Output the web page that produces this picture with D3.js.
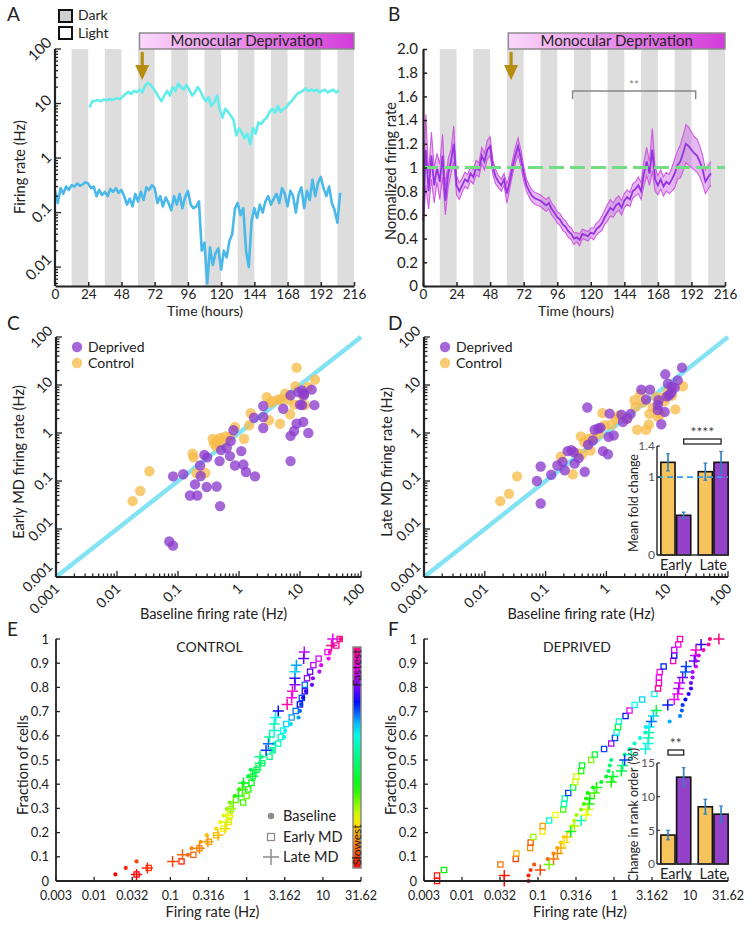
<!DOCTYPE html>
<html><head><meta charset="utf-8">
<script src="https://cdn.jsdelivr.net/npm/d3@7"></script>
<style>
body{margin:0;background:#fff}
svg{display:block}
text{font-family:Lato,'Open Sans',sans-serif;fill:#222}
</style>
</head><body><script>
// ================= DATA =================
// Panel A / B shared
const darkStarts=[12,36,60,84,108,132,156,180,204];
const darkLen=12;
const mdStart=61, mdEnd=216, arrowHour=63;
const hourTicks=[0,24,48,72,96,120,144,168,192,216];
const logTicksA=[0.01,0.1,1,10,100];
const logTickLabelsA=["0.01","0.1","1","10","100"];
const domainA=[0.0045,100];
// Panel A: upper cell (starts at hour 25, every 2 h)
const upperStartA=25, upperStepA=2;
const upperA=[8.5,11,11.2,11.5,11,11.8,11.5,12,11.8,12,12.5,12,13.5,15,16.5,15,17,16,18,16,21,24,22,19,16,13,11,14,17,14,20,17,23,20,18,22,18,14,16,20,17,13,11,13,9,10.5,14,8,5.5,8,7,6,5,2.6,3.5,2.9,2.3,2.8,1.8,3.6,2.8,4.5,4.2,5,5.5,7,8,6.8,9,7,8,8.5,10,11,13,15,16,17,19,17,18,17,18,16,17,18,16,17,18,16,17.5];
// Panel A: lower cell (hour 0.., every 2 h)
const lowerStartA=0, lowerStepA=2;
const lowerA=[0.25,0.15,0.28,0.22,0.3,0.26,0.32,0.3,0.34,0.31,0.33,0.36,0.34,0.28,0.3,0.2,0.26,0.21,0.24,0.2,0.27,0.24,0.28,0.23,0.26,0.2,0.14,0.18,0.13,0.22,0.16,0.24,0.17,0.29,0.26,0.32,0.28,0.15,0.2,0.13,0.19,0.15,0.11,0.2,0.14,0.22,0.12,0.19,0.25,0.14,0.12,0.13,0.16,0.02,0.028,0.005,0.023,0.011,0.018,0.022,0.009,0.02,0.015,0.03,0.04,0.12,0.15,0.09,0.12,0.02,0.01,0.07,0.12,0.08,0.14,0.1,0.16,0.2,0.14,0.18,0.22,0.15,0.28,0.22,0.13,0.25,0.2,0.1,0.22,0.29,0.12,0.25,0.17,0.4,0.2,0.35,0.45,0.28,0.2,0.3,0.15,0.11,0.065,0.23];
// Panel B
const normTicks=[0,0.2,0.4,0.6,0.8,1,1.2,1.4,1.6,1.8,2.0];
const normTickLabels=["0","0.2","0.4","0.6","0.8","1","1.2","1.4","1.6","1.8","2.0"];
const stepB=2;
const meanB=[0.55,1.15,0.8,1.1,0.85,1.0,0.88,1.1,0.72,0.95,1.05,1.2,0.85,0.8,0.85,0.9,0.88,0.95,0.92,1.0,0.98,1.1,1.05,1.15,1.18,1.0,0.92,0.88,0.85,0.9,0.78,0.88,1.0,1.1,1.18,1.08,0.95,0.85,0.8,0.76,0.74,0.73,0.72,0.7,0.68,0.7,0.65,0.62,0.58,0.56,0.52,0.5,0.46,0.44,0.4,0.41,0.39,0.44,0.43,0.42,0.45,0.44,0.48,0.5,0.53,0.58,0.62,0.66,0.64,0.68,0.7,0.66,0.72,0.75,0.73,0.8,0.82,0.85,0.8,0.95,1.05,0.95,1.15,0.9,0.85,0.9,0.84,0.88,0.86,0.9,0.95,1.02,1.05,1.12,1.2,1.18,1.15,1.12,1.1,1.05,0.98,0.88,0.92,0.95];
const semB=[0.10,0.30,0.15,0.20,0.15,0.12,0.15,0.18,0.12,0.12,0.10,0.15,
 0.08,0.07,0.06,0.06,0.06,0.06,0.06,0.06,0.06,0.07,0.07,0.08,0.08,
 0.06,0.06,0.05,0.05,0.05,0.08,0.06,0.06,0.07,0.07,0.07,0.06,
 0.05,0.05,0.05,0.05,0.05,0.05,0.05,0.05,0.05,0.05,0.05,0.05,0.05,0.05,
 0.05,0.05,0.05,0.05,0.04,0.05,0.04,0.04,0.04,0.04,0.05,0.05,0.05,0.06,0.06,0.07,0.07,0.06,0.06,0.06,0.06,0.06,0.06,0.06,0.06,0.06,0.07,0.07,
 0.10,0.12,0.10,0.18,0.10,0.08,0.08,0.08,0.08,0.08,0.10,0.12,0.12,0.14,0.15,0.16,0.16,0.15,0.14,0.14,0.13,0.12,0.10,0.10,0.10];
const sigHoursB=[107,195];
// Panels C / D
const logDomainCD=[0.001,100];
const logTicksCD=[0.001,0.01,0.1,1,10,100];
const logTickLabelsCD=["0.001","0.01","0.1","1","10","100"];
const depBaseC=[0.083,0.122,0.157,0.19,0.207,0.23,0.235,0.27,0.30,0.295,0.43,0.48,0.49,0.51,0.63,0.71,0.73,0.81,0.86,1.09,1.18,1.30,1.76,1.83,2.5,2.5,2.5,5.3,7.0,7.0,7.0,8.0,8.8,9.4,10,10.8,11.3,11.6,10.8,13.7,15.5,17.2,0.072,0.083,11.6];
const depEarlyC=[0.125,0.138,0.050,0.085,0.050,0.21,0.127,0.35,0.31,0.075,0.077,0.26,0.030,0.44,0.49,0.33,0.68,1.14,0.21,0.42,0.22,0.154,2.08,0.125,3.65,2.15,1.27,3.2,6.1,0.26,0.87,1.1,1.56,7.1,3.9,3.8,1.7,6.6,7.7,1.0,8.0,3.8,0.0055,0.0045,6.1];
const ctlBaseC=[0.018,0.024,0.034,0.174,0.18,0.20,0.28,0.37,0.39,0.43,0.49,0.42,0.56,0.71,0.86,1.21,1.47,1.55,2.85,3.1,3.3,4.4,4.7,5.0,5.7,6.9,8.0,8.8,8.4,11.1,12,13.3,17.6,6.5,0.45,0.6,3.5];
const ctlEarlyC=[0.038,0.062,0.16,0.37,0.31,0.147,0.147,0.75,0.60,0.67,0.79,0.53,0.65,0.83,1.33,0.76,1.45,2.6,5.6,1.84,4.3,5.0,1.56,5.0,6.6,2.45,3.9,23,9.4,6.1,3.8,9.1,12.9,5.0,0.7,0.85,4.6];
const depBaseD=[0.083,0.083,0.072,0.124,0.156,0.19,0.206,0.23,0.265,0.29,0.30,0.44,0.485,0.50,0.64,0.74,0.80,0.88,1.06,1.09,1.32,1.13,1.77,1.87,2.5,3.76,5.2,7.2,7.0,8.0,9.1,9.3,10.3,10.7,11.6,13.3,14.9,17.5,7.0,9.9,0.35,0.6,2.2,4.5,12];
const depLateD=[0.034,0.20,0.10,0.135,0.21,0.25,0.167,0.42,0.44,0.40,0.23,0.156,3.4,0.57,1.17,1.24,1.29,0.42,0.36,0.83,0.89,2.53,2.4,1.7,2.5,8.0,8.0,4.8,3.0,1.52,2.75,16.7,10.6,6.1,6.8,8.7,12.5,23,3.8,5.8,0.3,0.7,2.0,5.0,9.0];
const ctlBaseD=[0.018,0.025,0.034,0.177,0.28,0.38,0.40,0.43,0.50,0.55,0.86,0.94,1.45,1.6,2.9,3.2,3.6,4.5,5.0,5.1,5.8,6.6,7.7,9.1,10.3,13.6,18.2,6.9,0.6,0.75,1.2,2.2,4.0,8.5,0.33,3.0,12];
const ctlLateD=[0.038,0.054,0.125,0.32,0.138,0.85,0.36,0.65,0.76,0.43,2.6,1.46,1.97,2.3,4.8,1.17,6.6,1.17,1.5,2.5,3.4,5.6,2.45,4.6,7.5,3.1,9.4,2.2,0.8,0.95,1.5,2.0,4.3,5.5,0.38,3.5,6.0];
// Inset D
const insetGroups=["Early","Late"];
const foldCtl=[1.19,1.07], foldCtlErr=[0.11,0.11];
const foldDep=[0.51,1.19], foldDepErr=[0.04,0.14];
const foldTicks=[0,1,1.4], foldTickLabels=["0","1","1.4"];
// Panels E / F
const cdfTicks=[0.003162,0.01,0.03162,0.1,0.3162,1,3.162,10,31.62];
const cdfTickLabels=["0.003","0.01","0.032","0.1","0.316","1","3.162","10","31.62"];
const fracTicks=[0,0.1,0.2,0.3,0.4,0.5,0.6,0.7,0.8,0.9,1];
const fracTickLabels=["0","0.1","0.2","0.3","0.4","0.5","0.6","0.7","0.8","0.9","1"];
const baseE=[0.019,0.026,0.036,0.17,0.19,0.25,0.3,0.4,0.45,0.5,0.55,0.6,0.7,0.8,0.9,1.05,1.13,1.5,1.57,2.2,2.3,3.1,3.2,3.8,4.8,5.0,5.2,5.5,6.0,7.2,7.4,9.0,9.5,11.9,12.3,13.5,17];
const earlyE=[0.036,0.052,0.14,0.2,0.24,0.32,0.4,0.5,0.58,0.6,0.62,0.9,1.0,1.05,1.16,1.2,1.35,1.6,2.0,2.2,2.6,2.8,3.0,3.3,3.9,4.4,5.0,5.3,5.8,5.8,6.2,6.8,7.5,8.8,11.5,15,16.6];
const lateE=[0.036,0.05,0.107,0.144,0.24,0.31,0.42,0.52,0.55,0.57,0.62,0.67,0.78,0.88,0.91,1.2,1.33,1.5,1.5,1.8,1.93,2.0,2.3,2.3,2.4,2.6,3.4,3.9,4.0,4.3,4.3,4.3,4.5,5.6,5.7,13,13.5];
const earlyERank=[0,2,1,3,4,5,6,8,7,9,10,12,11,13,14,15,16,17,18,19,20,21,22,23,24,25,27,26,28,25,30,29,31,32,33,35,36];
const lateERank=[0,1,2,3,4,5,6,7,9,8,10,11,13,12,14,15,16,17,18,26,25,19,21,20,22,27,35,33,34,30,28,23,24,29,31,36,32];
const baseF=[0.075,0.075,0.08,0.089,0.134,0.16,0.18,0.2,0.22,0.26,0.28,0.3,0.32,0.37,0.4,0.43,0.45,0.53,0.68,0.79,0.85,0.88,0.92,1.38,1.6,1.86,2.2,2.6,2.65,5.4,7.4,7.8,8.0,8.7,9.6,10.3,10.3,10.8,10.8,12,12,13,15,17.6,18.3];
const earlyF=[0.0047,0.0047,0.0058,0.032,0.051,0.052,0.079,0.08,0.087,0.115,0.115,0.14,0.17,0.215,0.22,0.225,0.25,0.29,0.31,0.32,0.37,0.38,0.5,0.56,0.74,0.92,1.03,1.08,1.13,1.16,1.42,1.6,1.87,2.35,3.4,3.8,3.9,3.9,4.0,4.5,6.0,6.2,6.2,7.0,7.4];
const lateF=[0.036,0.036,0.107,0.14,0.16,0.18,0.2,0.22,0.24,0.27,0.3,0.37,0.43,0.45,0.47,0.48,0.55,0.59,0.92,0.97,1.25,1.3,1.38,1.69,2.6,2.8,2.85,2.88,2.9,3.1,3.3,3.6,5.1,6.2,6.9,7.1,7.3,8.0,8.7,8.9,11.4,11.8,12,14,24];
const earlyFColor=[0,0.02,0.37,0.1,0.05,0.16,0.12,0.07,0.28,0.2,0.14,0.58,0.22,0.33,0.56,0.54,0.72,0.45,0.25,0.24,0.35,0.4,0.3,0.42,0.72,0.85,0.72,0.6,0.4,0.58,0.74,0.9,0.62,0.64,0.6,0.99,0.97,0.9,0.93,0.74,0.95,0.75,0.88,0.92,0.96];
const lateFColor=[0,0.02,0.06,0.3,0.1,0.12,0.15,0.2,0.18,0.4,0.27,0.55,0.22,0.25,0.35,0.38,0.33,0.36,0.36,0.4,0.42,0.5,0.72,0.56,0.58,0.6,0.55,0.52,0.62,0.7,0.64,0.45,0.74,0.9,0.92,0.86,0.88,0.82,0.7,0.72,0.8,0.85,0.95,0.78,1.0];
// Inset F
const rankCtl=[4.3,8.5], rankCtlErr=[0.7,1.1];
const rankDep=[12.9,7.4], rankDepErr=[1.4,1.2];
const rankTicks=[0,5,10,15], rankTickLabels=["0","5","10","15"];

// ================= DRAWING =================
const W=751,H=930;
const svg=d3.select("body").append("svg").attr("width",W).attr("height",H);
svg.append("rect").attr("width",W).attr("height",H).attr("fill","#fff");
const defs=svg.append("defs");
const mdGrad=defs.append("linearGradient").attr("id","mdGrad");
mdGrad.append("stop").attr("offset","0%").attr("stop-color","#fbd8fb");
mdGrad.append("stop").attr("offset","100%").attr("stop-color","#d43bd9");

const AX="#222", PURPLE="rgb(140,60,205)", ORANGE="rgb(247,188,75)";
const cmapHue=d3.scaleLinear().domain([0,0.22,0.37,0.62,0.74,0.85,1]).range([0,60,120,180,235,280,330]);
const rankColor=t=>d3.hsl(cmapHue(t),0.95,0.5).formatHex();

function panelLabel(x,y,t){svg.append("text").attr("x",x).attr("y",y).attr("font-size",19).text(t);}
function vTitle(x,y,t,size){svg.append("text").attr("transform",`translate(${x},${y}) rotate(-90)`).attr("text-anchor","middle").attr("font-size",size).text(t);}
function hTitle(x,y,t,size){svg.append("text").attr("x",x).attr("y",y).attr("text-anchor","middle").attr("font-size",size).text(t);}
function rotLeft(g,axisX,ty,txt,size){
  const t=g.append("text").attr("font-size",size).attr("text-anchor","middle").attr("dy","0.35em").text(txt);
  const L=t.node().getComputedTextLength();
  t.attr("transform",`translate(${axisX-6-0.354*L},${ty}) rotate(-45)`);
}
function rotBottom(g,tx,axisY,txt,size){
  const t=g.append("text").attr("font-size",size).attr("text-anchor","middle").attr("dy","0.35em").text(txt);
  const L=t.node().getComputedTextLength();
  t.attr("transform",`translate(${tx+1-0.354*L},${axisY+9+0.354*L}) rotate(-45)`);
}
function minorLogTicks(lo,hi){const out=[];let e=Math.floor(Math.log10(lo));for(;Math.pow(10,e)<=hi;e++){for(let k=1;k<10;k++){const v=k*Math.pow(10,e);if(v>=lo&&v<=hi)out.push(v);}}return out;}

// ---------- time panels (A, B) ----------
function timeFrame(x,y,yTop,yBot){
  const g=svg.append("g");
  g.selectAll("rect.dark").data(darkStarts).join("rect")
    .attr("x",d=>x(d)).attr("width",d=>x(d+darkLen)-x(d))
    .attr("y",yTop).attr("height",yBot-yTop).attr("fill","#dddddd");
  g.append("rect").attr("x",x(mdStart)).attr("y",yTop-16).attr("width",x(mdEnd)-x(mdStart)).attr("height",16)
    .attr("fill","url(#mdGrad)").attr("stroke","#8a8a8a").attr("stroke-width",1.5);
  g.append("text").attr("x",(x(mdStart)+x(mdEnd))/2).attr("y",yTop-3).attr("text-anchor","middle").attr("font-size",15).text("Monocular Deprivation");
  const ax=x(arrowHour);
  g.append("line").attr("x1",ax).attr("x2",ax).attr("y1",yTop+3).attr("y2",yTop+18).attr("stroke","#b68d0c").attr("stroke-width",3.2);
  g.append("path").attr("d",`M${ax-7},${yTop+16}L${ax+7},${yTop+16}L${ax},${yTop+31}Z`).attr("fill","#b68d0c");
  return g;
}
function timeXAxis(g,x,yBot){
  const ax=d3.axisBottom(x).tickValues(hourTicks).tickSize(-4).tickSizeOuter(0).tickPadding(3);
  const a=g.append("g").attr("transform",`translate(0,${yBot})`).call(ax);
  a.select(".domain").attr("stroke",AX).attr("stroke-width",2.2);
  a.selectAll(".tick line").attr("stroke",AX).attr("stroke-width",1.5);
  a.selectAll("text").attr("font-size",13.5).attr("fill","#222").attr("font-family","Lato,sans-serif");
}

// Panel A
{
  const x=d3.scaleLinear().domain([0,216]).range([55,354]);
  const y=d3.scaleLog().domain(domainA).range([286,49]);
  const g=timeFrame(x,y,49,286);
  const line=d3.line().x(d=>x(d[0])).y(d=>y(d[1]));
  const up=upperA.map((v,i)=>[upperStartA+i*upperStepA,v]);
  const lo=lowerA.map((v,i)=>[lowerStartA+i*lowerStepA,v]);
  g.append("path").attr("d",line(up)).attr("fill","none").attr("stroke","#63ecec").attr("stroke-width",2.6).attr("stroke-linejoin","round");
  g.append("path").attr("d",line(lo)).attr("fill","none").attr("stroke","#4bb8ea").attr("stroke-width",2.6).attr("stroke-linejoin","round");
  timeXAxis(g,x,286);
  g.append("line").attr("x1",55).attr("x2",55).attr("y1",49).attr("y2",286).attr("stroke",AX).attr("stroke-width",2.2);
  g.selectAll("line.mn").data(minorLogTicks(domainA[0],domainA[1])).join("line")
    .attr("x1",55).attr("x2",d=>logTicksA.includes(d)?61:58).attr("y1",d=>y(d)).attr("y2",d=>y(d)).attr("stroke",AX).attr("stroke-width",1.3);
  logTicksA.forEach((v,i)=>rotLeft(g,55,y(v),logTickLabelsA[i],15));
  vTitle(25,167,"Firing rate (Hz)",14.5);
  hTitle(205,316,"Time (hours)",14);
  g.append("rect").attr("x",59).attr("y",10).attr("width",13).attr("height",12).attr("fill","#cfcfcf").attr("stroke","#111").attr("stroke-width",2);
  g.append("rect").attr("x",59).attr("y",27).attr("width",13).attr("height",12).attr("fill","#fff").attr("stroke","#111").attr("stroke-width",2);
  g.append("text").attr("x",78).attr("y",20).attr("font-size",14).text("Dark");
  g.append("text").attr("x",78).attr("y",37.5).attr("font-size",14).text("Light");
  panelLabel(7,21,"A");
}
// Panel B
{
  const x=d3.scaleLinear().domain([0,216]).range([423,725]);
  const y=d3.scaleLinear().domain([0,2]).range([286,49]);
  const g=timeFrame(x,y,49,286);
  const pts=meanB.map((v,i)=>({h:i*stepB,m:v,s:semB[i]}));
  const area=d3.area().x(d=>x(d.h)).y0(d=>y(d.m-d.s)).y1(d=>y(d.m+d.s));
  g.append("path").attr("d",area(pts)).attr("fill","rgba(200,100,230,0.45)");
  const lineU=d3.line().x(d=>x(d.h)).y(d=>y(d.m+d.s));
  const lineL=d3.line().x(d=>x(d.h)).y(d=>y(d.m-d.s));
  g.append("path").attr("d",lineU(pts)).attr("fill","none").attr("stroke","#cf5ae0").attr("stroke-width",1.1);
  g.append("path").attr("d",lineL(pts)).attr("fill","none").attr("stroke","#cf5ae0").attr("stroke-width",1.1);
  g.append("path").attr("d",d3.line().x(d=>x(d.h)).y(d=>y(d.m))(pts)).attr("fill","none").attr("stroke","#9533e0").attr("stroke-width",1.8);
  g.append("line").attr("x1",x(0)).attr("x2",x(216)).attr("y1",y(1)).attr("y2",y(1)).attr("stroke","#73dd84").attr("stroke-width",3).attr("stroke-dasharray","15,6");
  const sy=91;
  g.append("path").attr("d",`M${x(sigHoursB[0])},${sy+8}V${sy}H${x(sigHoursB[1])}V${sy+8}`).attr("fill","none").attr("stroke","#888").attr("stroke-width",1.5);
  g.append("text").attr("x",(x(sigHoursB[0])+x(sigHoursB[1]))/2).attr("y",sy-2).attr("text-anchor","middle").attr("font-size",12).style("fill","#888").text("**");
  timeXAxis(g,x,286);
  const ya=d3.axisLeft(y).tickValues(normTicks).tickFormat((d,i)=>normTickLabels[i]).tickSize(-4).tickSizeOuter(0).tickPadding(5);
  const a=g.append("g").attr("transform","translate(423,0)").call(ya);
  a.select(".domain").attr("stroke",AX).attr("stroke-width",2.2);
  a.selectAll(".tick line").attr("stroke",AX).attr("stroke-width",1.5);
  a.selectAll("text").attr("font-size",15).attr("fill","#222").attr("font-family","Lato,sans-serif");
  vTitle(396,171,"Normalized firing rate",14.5);
  hTitle(576,316,"Time (hours)",14);
  panelLabel(388,21,"B");
}

// ---------- scatter panels (C, D) ----------
function scatterPanel(c){
  const x=d3.scaleLog().domain(logDomainCD).range([c.x0,c.x1]);
  const y=d3.scaleLog().domain(logDomainCD).range([c.y1,c.y0]);
  const g=svg.append("g");
  g.append("line").attr("x1",x(logDomainCD[0])).attr("y1",y(logDomainCD[0])).attr("x2",x(logDomainCD[1])).attr("y2",y(logDomainCD[1]))
    .attr("stroke","#84e3f3").attr("stroke-width",4.5);
  const ctl=c.ctlX.map((v,i)=>[v,c.ctlY[i]]);
  const dep=c.depX.map((v,i)=>[v,c.depY[i]]);
  g.selectAll("circle.c").data(ctl).join("circle").attr("cx",d=>x(d[0])).attr("cy",d=>y(d[1])).attr("r",5.2).attr("fill",ORANGE).attr("fill-opacity",0.78);
  g.selectAll("circle.d").data(dep).join("circle").attr("cx",d=>x(d[0])).attr("cy",d=>y(d[1])).attr("r",5.2).attr("fill",PURPLE).attr("fill-opacity",0.78);
  g.append("line").attr("x1",c.x0).attr("x2",c.x1).attr("y1",c.y1).attr("y2",c.y1).attr("stroke",AX).attr("stroke-width",2.2);
  g.append("line").attr("x1",c.x0).attr("x2",c.x0).attr("y1",c.y0).attr("y2",c.y1).attr("stroke",AX).attr("stroke-width",2.2);
  const mt=minorLogTicks(logDomainCD[0],logDomainCD[1]);
  g.selectAll("line.tx").data(mt).join("line").attr("x1",d=>x(d)).attr("x2",d=>x(d)).attr("y1",c.y1).attr("y2",d=>c.y1-(logTicksCD.includes(d)?6:3.5)).attr("stroke",AX).attr("stroke-width",1.3);
  g.selectAll("line.ty").data(mt).join("line").attr("y1",d=>y(d)).attr("y2",d=>y(d)).attr("x1",c.x0).attr("x2",d=>c.x0+(logTicksCD.includes(d)?6:3.5)).attr("stroke",AX).attr("stroke-width",1.3);
  logTicksCD.forEach((v,i)=>{rotBottom(g,x(v),c.y1,logTickLabelsCD[i],14);rotLeft(g,c.x0,y(v),logTickLabelsCD[i],14);});
  g.append("circle").attr("cx",c.x0+21).attr("cy",347).attr("r",5.2).attr("fill",PURPLE).attr("fill-opacity",0.78);
  g.append("circle").attr("cx",c.x0+21).attr("cy",363).attr("r",5.2).attr("fill",ORANGE).attr("fill-opacity",0.78);
  g.append("text").attr("x",c.x0+32).attr("y",352).attr("font-size",14).text("Deprived");
  g.append("text").attr("x",c.x0+32).attr("y",368).attr("font-size",14).text("Control");
  vTitle(c.x0-32,462,c.ytitle,14.5);
  hTitle((c.x0+c.x1)/2+5,619,"Baseline firing rate (Hz)",14.5);
  return g;
}
scatterPanel({x0:56,x1:361,y0:337,y1:577,ctlX:ctlBaseC,ctlY:ctlEarlyC,depX:depBaseC,depY:depEarlyC,ytitle:"Early MD firing rate (Hz)"});
panelLabel(7,330,"C");
scatterPanel({x0:424,x1:728,y0:337,y1:577,ctlX:ctlBaseD,ctlY:ctlLateD,depX:depBaseD,depY:depLateD,ytitle:"Late MD firing rate (Hz)"});
panelLabel(388,330,"D");

// ---------- bar insets ----------
function barInset(c){
  const g=svg.append("g");
  const y=d3.scaleLinear().domain([0,c.ymax]).range([c.yb,c.yt]);
  const xo=d3.scaleBand().domain(insetGroups).range([c.xl+2,c.xr+2]).paddingInner(0.2).paddingOuter(0.05);
  const xi=d3.scaleBand().domain(["ctl","dep"]).range([0,xo.bandwidth()]).paddingInner(0.1);
  const rows=[];
  insetGroups.forEach((gname,i)=>{rows.push({g:gname,k:"ctl",v:c.ctl[i],e:c.ctlErr[i]});rows.push({g:gname,k:"dep",v:c.dep[i],e:c.depErr[i]});});
  g.selectAll("rect.bar").data(rows).join("rect").attr("x",d=>xo(d.g)+xi(d.k)).attr("width",xi.bandwidth())
    .attr("y",d=>y(d.v)).attr("height",d=>y(0)-y(d.v)).attr("fill",d=>d.k==="ctl"?"#f6c35c":"#9442c9").attr("stroke","#111").attr("stroke-width",1.6);
  if(c.refLine!==undefined){
    g.append("line").attr("x1",c.xl).attr("x2",c.xr).attr("y1",y(c.refLine)).attr("y2",y(c.refLine)).attr("stroke","#3a9fe6").attr("stroke-width",1.6).attr("stroke-dasharray","6,4");
  }
  const cx=d=>xo(d.g)+xi(d.k)+xi.bandwidth()/2;
  g.selectAll("line.eb").data(rows).join("line").attr("x1",cx).attr("x2",cx).attr("y1",d=>y(d.v-d.e)).attr("y2",d=>y(d.v+d.e)).attr("stroke","#2f7fc4").attr("stroke-width",1.6);
  g.selectAll("line.c1").data(rows).join("line").attr("x1",d=>cx(d)-1.8).attr("x2",d=>cx(d)+1.8).attr("y1",d=>y(d.v+d.e)).attr("y2",d=>y(d.v+d.e)).attr("stroke","#2f7fc4").attr("stroke-width",1.3);
  g.selectAll("line.c2").data(rows).join("line").attr("x1",d=>cx(d)-1.8).attr("x2",d=>cx(d)+1.8).attr("y1",d=>y(d.v-d.e)).attr("y2",d=>y(d.v-d.e)).attr("stroke","#2f7fc4").attr("stroke-width",1.3);
  g.append("line").attr("x1",c.xl).attr("x2",c.xl).attr("y1",c.yt).attr("y2",c.yb).attr("stroke","#333").attr("stroke-width",1.5);
  g.append("line").attr("x1",c.xl).attr("x2",c.xr).attr("y1",c.yb).attr("y2",c.yb).attr("stroke","#333").attr("stroke-width",1.5);
  g.selectAll("line.yt").data(c.ticks).join("line").attr("x1",c.xl).attr("x2",c.xl+3).attr("y1",d=>y(d)).attr("y2",d=>y(d)).attr("stroke","#333").attr("stroke-width",1.2);
  g.selectAll("text.yl").data(c.ticks).join("text").attr("x",c.xl-2).attr("y",d=>y(d)).attr("dy","0.35em").attr("text-anchor","end").attr("font-size",12).style("fill","#555").text((d,i)=>c.tickLabels[i]);
  g.selectAll("text.xl").data(insetGroups).join("text").attr("x",d=>xo(d)+xo.bandwidth()/2).attr("y",c.yb+15).attr("text-anchor","middle").attr("font-size",14.5).text(d=>d);
  g.append("text").attr("transform",`translate(${c.xl-c.titleOff},${c.titleY}) rotate(-90)`).attr("text-anchor","middle").attr("font-size",c.titleSize).text(c.title);
  const s0=xo(c.sig[0][0])+xi(c.sig[0][1])+xi.bandwidth()/2, s1=xo(c.sig[1][0])+xi(c.sig[1][1])+xi.bandwidth()/2;
  g.append("rect").attr("x",s0).attr("y",c.sigY).attr("width",s1-s0).attr("height",5).attr("fill","#fff").attr("stroke","#222").attr("stroke-width",1.3);
  g.append("text").attr("x",(s0+s1)/2).attr("y",c.sigY-2).attr("text-anchor","middle").attr("font-size",14).style("fill","#444").text(c.sigText);
}
barInset({xl:657,xr:728,yt:446,yb:555,ymax:1.4,ctl:foldCtl,ctlErr:foldCtlErr,dep:foldDep,depErr:foldDepErr,ticks:foldTicks,tickLabels:foldTickLabels,refLine:1,
  title:"Mean fold change",titleY:503,titleSize:12.5,titleOff:19,sig:[["Early","dep"],["Late","dep"]],sigY:439,sigText:"****"});

// ---------- CDF panels (E, F) ----------
function cdfPanel(c){
  const x=d3.scaleLog().domain([cdfTicks[0],cdfTicks[cdfTicks.length-1]]).range([c.x0,c.x1]);
  const y=d3.scaleLinear().domain([0,1]).range([c.y1,c.y0]);
  const g=svg.append("g");
  const n=c.base.length;
  const frac=i=>c.startZero?i/(n-1):(i+1)/n;
  const sq=c.early.map((v,i)=>({v,f:frac(i),col:c.earlyCol[i]}));
  const pl=c.late.map((v,i)=>({v,f:frac(i),col:c.lateCol[i]}));
  const bd=c.base.map((v,i)=>({v,f:frac(i),col:i/(n-1)}));
  g.selectAll("rect.sq").data(sq).join("rect").attr("x",d=>x(d.v)-2.6).attr("y",d=>y(d.f)-2.6).attr("width",5.2).attr("height",5.2)
    .attr("fill","none").attr("stroke",d=>rankColor(d.col)).attr("stroke-width",1.3);
  g.selectAll("circle.bd").data(bd).join("circle").attr("cx",d=>x(d.v)).attr("cy",d=>y(d.f)).attr("r",2.1).attr("fill",d=>rankColor(d.col));
  g.selectAll("path.pl").data(pl).join("path").attr("transform",d=>`translate(${x(d.v)},${y(d.f)})`).attr("d","M-5.5,0H5.5M0,-5.5V5.5")
    .attr("stroke",d=>rankColor(d.col)).attr("stroke-width",1.5);
  g.append("line").attr("x1",c.x0).attr("x2",c.x1).attr("y1",c.y1).attr("y2",c.y1).attr("stroke",AX).attr("stroke-width",1.8);
  g.append("line").attr("x1",c.x0).attr("x2",c.x0).attr("y1",c.y0).attr("y2",c.y1).attr("stroke",AX).attr("stroke-width",1.8);
  g.selectAll("line.tx").data(cdfTicks).join("line").attr("x1",d=>x(d)).attr("x2",d=>x(d)).attr("y1",c.y1).attr("y2",c.y1-4).attr("stroke",AX).attr("stroke-width",1.3);
  g.selectAll("text.tx").data(cdfTicks).join("text").attr("x",d=>x(d)).attr("y",c.y1+19).attr("text-anchor","middle").attr("font-size",12.5).text((d,i)=>cdfTickLabels[i]);
  g.selectAll("line.ty").data(fracTicks).join("line").attr("x1",c.x0).attr("x2",c.x0+4).attr("y1",d=>y(d)).attr("y2",d=>y(d)).attr("stroke",AX).attr("stroke-width",1.3);
  g.selectAll("text.ty").data(fracTicks).join("text").attr("x",c.x0-7).attr("y",d=>y(d)).attr("dy","0.35em").attr("text-anchor","end").attr("font-size",13).text((d,i)=>fracTickLabels[i]);
  g.append("text").attr("x",(c.x0+c.x1)/2+1).attr("y",c.y0+13).attr("text-anchor","middle").attr("font-size",14).text(c.title);
  vTitle(c.x0-28,765,"Fraction of cells",14.5);
  hTitle((c.x0+c.x1)/2+4,917,"Firing rate (Hz)",14.5);
  return g;
}
const gE=cdfPanel({x0:56,x1:361,y0:639,y1:881,base:baseE,early:earlyE,late:lateE,earlyCol:earlyERank.map(r=>r/36),lateCol:lateERank.map(r=>r/36),startZero:false,title:"CONTROL"});
panelLabel(7,636,"E");
cdfPanel({x0:424,x1:728,y0:639,y1:881,base:baseF,early:earlyF,late:lateF,earlyCol:earlyFColor,lateCol:lateFColor,startZero:true,title:"DEPRIVED"});
panelLabel(388,636,"F");

{
  const cg=defs.append("linearGradient").attr("id","rankGrad").attr("x1",0).attr("y1",1).attr("x2",0).attr("y2",0);
  d3.range(0,1.0001,0.05).forEach(t=>cg.append("stop").attr("offset",(t*100)+"%").attr("stop-color",rankColor(t)));
  gE.append("rect").attr("x",353).attr("y",647).attr("width",8).attr("height",221).attr("fill","url(#rankGrad)").attr("stroke","#888").attr("stroke-width",1.5);
  gE.append("text").attr("transform","translate(361,668) rotate(-90)").attr("text-anchor","middle").attr("font-size",12).text("Fastest");
  gE.append("text").attr("transform","translate(361,845) rotate(-90)").attr("text-anchor","middle").attr("font-size",12).text("Slowest");
  const lg="#8c8c8c";
  gE.append("circle").attr("cx",271).attr("cy",816).attr("r",3.2).attr("fill",lg);
  gE.append("rect").attr("x",267.5).attr("y",833.5).attr("width",7).attr("height",7).attr("fill","none").attr("stroke",lg).attr("stroke-width",1.3);
  gE.append("path").attr("d","M263,857H279M271,849V865").attr("stroke",lg).attr("stroke-width",1.5);
  gE.append("text").attr("x",283).attr("y",821).attr("font-size",14.5).text("Baseline");
  gE.append("text").attr("x",283).attr("y",842).attr("font-size",14.5).text("Early MD");
  gE.append("text").attr("x",283).attr("y",862).attr("font-size",14.5).text("Late MD");
}
barInset({xl:657,xr:728,yt:763,yb:864,ymax:15,ctl:rankCtl,ctlErr:rankCtlErr,dep:rankDep,depErr:rankDepErr,ticks:rankTicks,tickLabels:rankTickLabels,
  title:"Change in rank order (%)",titleY:815,titleSize:12.5,titleOff:19,sig:[["Early","ctl"],["Early","dep"]],sigY:750,sigText:"**"});
</script></body></html>
